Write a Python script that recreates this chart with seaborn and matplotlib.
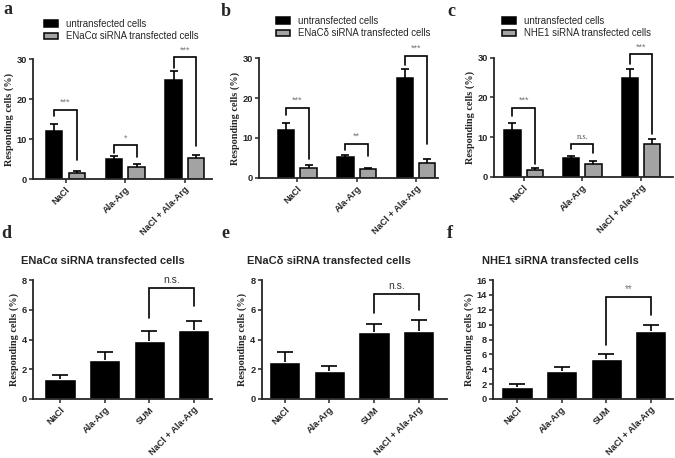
import numpy as np
import pandas as pd
import matplotlib
matplotlib.use("Agg")
import matplotlib.pyplot as plt
import seaborn as sns

W, H = 675, 458

groups3 = ["NaCl", "Ala-Arg", "NaCl + Ala-Arg"]
groups4 = ["NaCl", "Ala-Arg", "SUM", "NaCl + Ala-Arg"]
ctrl_name = "untransfected cells"
siRNA = ["ENaC\u03b1", "ENaC\u03b4", "NHE1"]

# panels a-c: untransfected vs siRNA transfected (mean, SEM)
ctrl_a = [12.0, 5.1, 24.9]
ctrl_a_err = [1.8, 0.6, 2.2]
trans_a = [1.6, 2.9, 5.2]
trans_a_err = [0.5, 0.8, 0.8]

ctrl_b = [12.0, 5.2, 25.0]
ctrl_b_err = [1.8, 0.4, 2.2]
trans_b = [2.5, 2.1, 3.8]
trans_b_err = [0.7, 0.4, 0.8]

ctrl_c = [11.8, 4.7, 24.9]
ctrl_c_err = [1.8, 0.4, 2.2]
trans_c = [1.7, 3.2, 8.2]
trans_c_err = [0.4, 0.7, 1.3]

# panels d-f: transfected cells incl. SUM
vals_d = [1.33, 2.6, 3.91, 4.67]
err_d = [0.31, 0.59, 0.67, 0.61]
vals_e = [2.52, 1.89, 4.49, 4.58]
err_e = [0.67, 0.36, 0.59, 0.77]
vals_f = [1.66, 3.72, 5.33, 9.14]
err_f = [0.34, 0.58, 0.67, 0.86]

# significance brackets: (bar height, left leg end, right leg end)
brk_a = [(17.4, 15.8, 4.8), (8.5, 6.6, 5.4), (30.5, 27.9, 8.3)]
brk_b = [(17.6, 15.8, 4.6), (8.5, 7.0, 5.4), (30.7, 28.3, 8.5)]
brk_c = [(17.4, 15.4, 3.2), (8.2, 6.9, 5.9), (30.9, 28.4, 10.8)]
sig_a = ["***", "*", "***"]
sig_b = ["***", "**", "***"]
sig_c = ["***", "n.s.", "***"]
brk_d = (7.47, 5.47, 6.26)
brk_e = (7.08, 5.78, 6.0)
brk_f = (13.7, 7.3, 11.3)
sig_d, sig_e, sig_f = "n.s.", "n.s.", "**"

sns.set_style("ticks")
plt.rcParams["font.family"] = ["Liberation Sans", "DejaVu Sans"]
plt.rcParams["axes.linewidth"] = 1.3

fig = plt.figure(figsize=(W / 100, H / 100), dpi=100)


def add_axes(l, t, r, b):
    return fig.add_axes([l / W, 1 - b / H, (r - l) / W, (b - t) / H])


def style_axes(ax, ymax, yticks, xlim):
    ax.set_ylim(0, ymax)
    ax.set_xlim(*xlim)
    ax.set_yticks(yticks)
    ax.set_xlabel("")
    ax.set_ylabel("Responding cells (%)", fontfamily="Liberation Serif",
                  fontweight="bold", fontsize=7.4, labelpad=2)
    ax.tick_params(axis="both", direction="out", length=3, width=1.1,
                   labelsize=6.7, pad=1.5)
    plt.setp(ax.get_yticklabels(), fontweight="bold")
    plt.setp(ax.get_xticklabels(), fontweight="bold", rotation=45,
             ha="right", va="top", rotation_mode="anchor")
    sns.despine(ax=ax)


def upper_errbars(ax, cont, err, capsize):
    ys = [p.get_height() for p in cont]
    _, caps, _ = ax.errorbar(centers(cont), ys,
                             yerr=[np.zeros(len(err)), err], fmt="none",
                             ecolor="black", elinewidth=1.2,
                             capsize=capsize, capthick=1.2)
    caps[0].set_visible(False)


def bracket(ax, xl, xr, spec, label, fs, color, family=None):
    top, lb, rb = spec
    ax.plot([xl, xl, xr, xr], [lb, top, top, rb], color="black", lw=1.2,
            clip_on=False, solid_joinstyle="miter")
    ax.annotate(label, ((xl + xr) / 2, top), xytext=(0, 2),
                textcoords="offset points", ha="center", va="bottom",
                fontsize=fs, color=color, family=family, annotation_clip=False)


def centers(container):
    return [p.get_x() + p.get_width() / 2 for p in container]


def top_panel(rect, xlim, ctrl, ctrl_err, trans, trans_err, name, brk, sig,
              leg_xy, letter, letter_xy):
    ax = add_axes(*rect)
    trans_name = name + " siRNA transfected cells"
    df = pd.DataFrame({
        "stim": groups3 * 2,
        "cells": [ctrl_name] * 3 + [trans_name] * 3,
        "pct": ctrl + trans,
    })
    sns.barplot(data=df, x="stim", y="pct", hue="cells", order=groups3,
                hue_order=[ctrl_name, trans_name],
                palette=["black", "#a3a3a3"], saturation=1, width=0.76,
                gap=0.28, edgecolor="black", linewidth=1.1, errorbar=None,
                ax=ax)
    bars = list(ax.containers)
    for cont, err in zip(bars, [ctrl_err, trans_err]):
        upper_errbars(ax, cont, err, 3)
    xl, xr = centers(bars[0]), centers(bars[1])
    for i in range(3):
        if sig[i] == "n.s.":
            bracket(ax, xl[i], xr[i], brk[i], sig[i], 6, "#555555",
                    "Liberation Serif")
        else:
            bracket(ax, xl[i], xr[i], brk[i], sig[i], 6.5, "#777777")
    handles, labels = ax.get_legend_handles_labels()
    ax.get_legend().remove()
    style_axes(ax, 30, [0, 10, 20, 30], xlim)
    fig.legend(handles, labels, loc="upper left",
               bbox_to_anchor=(leg_xy[0] / W, 1 - leg_xy[1] / H),
               frameon=False, fontsize=6.9, handlelength=1.5,
               handleheight=0.7, handletextpad=0.75, labelspacing=0.25,
               borderpad=0, borderaxespad=0)
    fig.text(letter_xy[0] / W, 1 - letter_xy[1] / H, letter,
             fontfamily="Liberation Serif", fontweight="bold", fontsize=13,
             va="baseline")
    return ax


def bottom_panel(rect, xlim, vals, err, ymax, yticks, name, brk, sig,
                 title_x, letter, letter_xy):
    ax = add_axes(*rect)
    sns.barplot(x=groups4, y=vals, color="black", saturation=1, width=0.7,
                errorbar=None, ax=ax)
    cont = ax.containers[0]
    xs = centers(cont)
    upper_errbars(ax, cont, err, 5.5)
    if sig == "n.s.":
        bracket(ax, xs[2], xs[3], brk, sig, 7.5, "#333333")
    else:
        bracket(ax, xs[2], xs[3], brk, sig, 7, "#777777")
    style_axes(ax, ymax, yticks, xlim)
    fig.text(title_x / W, 1 - 261.5 / H, name + " siRNA transfected cells",
             ha="center", va="center", fontweight="bold", fontsize=8)
    fig.text(letter_xy[0] / W, 1 - letter_xy[1] / H, letter,
             fontfamily="Liberation Serif", fontweight="bold", fontsize=13,
             va="baseline")
    return ax


top_panel((33.3, 59.3, 211.7, 179), (-0.54, 2.45), ctrl_a, ctrl_a_err,
          trans_a, trans_a_err, siRNA[0], brk_a, sig_a, (44, 19), "a",
          (3, 14))
top_panel((259.3, 58.3, 438, 177.7), (-0.64, 2.37), ctrl_b, ctrl_b_err,
          trans_b, trans_b_err, siRNA[1], brk_b, sig_b, (276, 16), "b",
          (221, 16))
top_panel((494.3, 57.7, 673.3, 176.7), (-0.5, 2.55), ctrl_c, ctrl_c_err,
          trans_c, trans_c_err, siRNA[2], brk_c, sig_c, (502, 16), "c",
          (447, 16))

bottom_panel((33.3, 280.3, 211.7, 399), (-0.6, 3.4), vals_d, err_d, 8,
             [0, 2, 4, 6, 8], siRNA[0], brk_d, sig_d, 103, "d", (1, 238))
bottom_panel((261.7, 280.3, 446.7, 399), (-0.52, 3.63), vals_e, err_e, 8,
             [0, 2, 4, 6, 8], siRNA[1], brk_e, sig_e, 329, "e", (221, 238))
bottom_panel((493.3, 280, 673, 399), (-0.53, 3.5), vals_f, err_f, 16,
             [0, 2, 4, 6, 8, 10, 12, 14, 16], siRNA[2], brk_f, sig_f, 560,
             "f", (447, 238))

fig.savefig("out.png", dpi=100)
